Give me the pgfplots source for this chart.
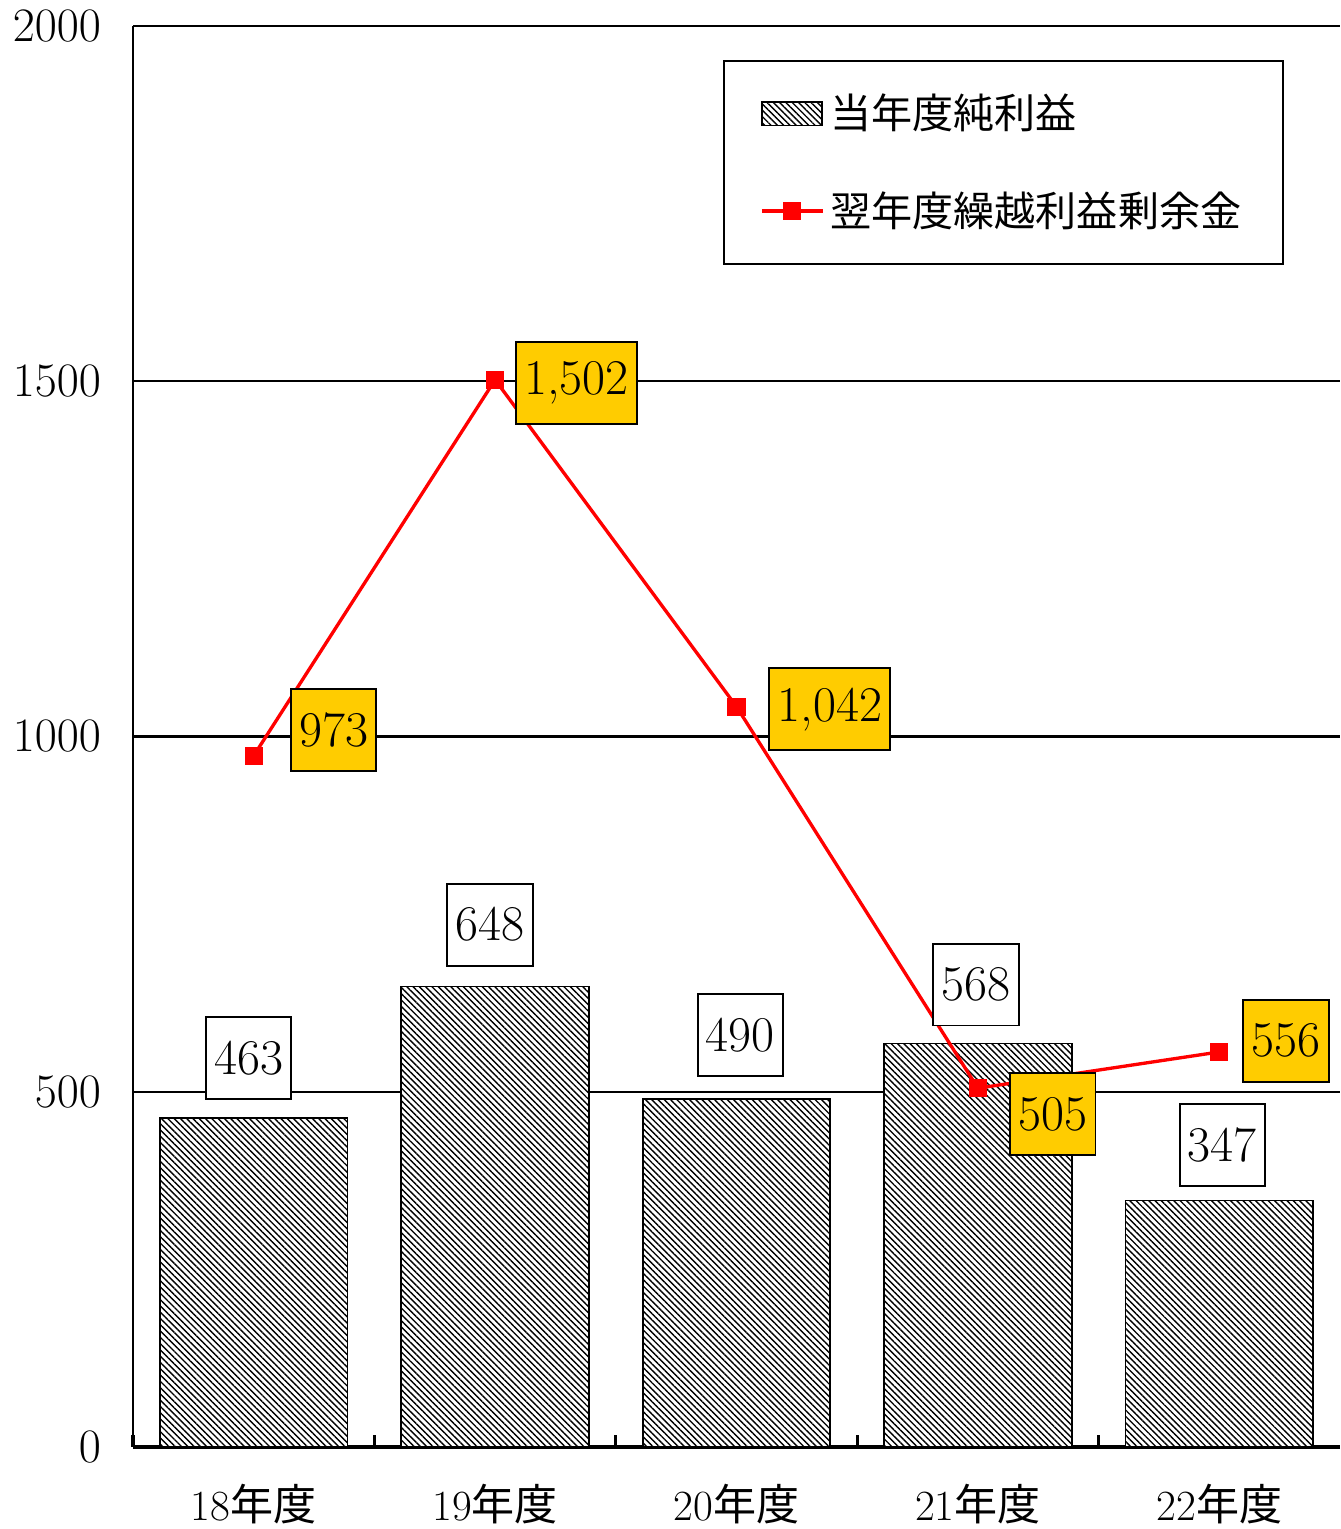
\documentclass[border=0pt]{standalone}
\usepackage{fontspec}
\usepackage{pgfplots}
\pgfplotsset{compat=1.18}
\usetikzlibrary{patterns.meta}
\newfontfamily\cjk{Noto Sans CJK JP}
\definecolor{gold}{HTML}{FFCC00}

\pgfplotsset{
  barleg/.style={legend image code/.code={\draw[##1] (0pt,-4.3pt) rectangle (21.6pt,4.3pt);}},
  lineleg/.style={legend image code/.code={\draw[mark repeat=2,mark phase=2,##1] plot coordinates {(0pt,0pt)(11pt,0pt)(22pt,0pt)};}},
}

\begin{document}
\begin{tikzpicture}
\path[use as bounding box] (0,0) rectangle (482.4pt,550.44pt);
\begin{axis}[
  at={(47.88pt,29.52pt)}, anchor=south west,
  scale only axis, width=434.52pt, height=511.56pt,
  xmin=-0.5, xmax=4.5, ymin=0, ymax=2000,
  axis x line*=bottom, axis y line*=left,
  x axis line style={line width=1.3pt, -},
  y axis line style={line width=0.7pt, -},
  ytick={0,500,1000,1500,2000},
  ymajorgrids, grid style={black, line width=0.75pt},
  xtick={0,1,2,3,4},
  xticklabels={18{\cjk 年度},19{\cjk 年度},20{\cjk 年度},21{\cjk 年度},22{\cjk 年度}},
  minor xtick={-0.5,0.5,1.5,2.5,3.5},
  major tick length=0pt, minor tick length=4.3pt, tick align=inside,
  every minor tick/.append style={line width=1.1pt, black},
  xticklabel style={font=\fontsize{15.5}{15.5}\selectfont, yshift=-10pt},
  yticklabel style={font=\fontsize{16}{16}\selectfont, xshift=-8pt},
  /pgf/number format/1000 sep={},
  clip=false,
  legend style={at={(0.9536,0.9761)}, anchor=north east, draw=black, line width=0.7pt,
    font=\cjk\fontsize{14.8}{14.8}\selectfont, inner xsep=13pt, inner ysep=10pt,
    row sep=17pt, cells={anchor=west}},
]
\addplot[ybar, bar width=0.777, draw=black, line width=0.6pt, fill=white,
  postaction={pattern={Lines[angle=-45,distance=1.6pt,line width=0.5pt]}}, barleg]
  coordinates {(0,463)(1,648)(2,490)(3,568)(4,347)};
\addlegendentry{当年度純利益}
\addplot[red, line width=1.2pt, mark=square*, mark size=3pt,
  mark options={solid, fill=red, line width=0.5pt}, lineleg]
  coordinates {(0,973)(1,1502)(2,1042)(3,505)(4,556)};
\addlegendentry{翌年度繰越利益剰余金}

\tikzset{
  barlbl/.style={draw=black, fill=white, line width=0.7pt, font=\fontsize{18}{18}\selectfont,
    inner xsep=3pt, inner ysep=0pt, minimum height=29.5pt, anchor=south},
  linelbl/.style={draw=black, fill=gold, line width=0.7pt, font=\fontsize{18}{18}\selectfont,
    inner xsep=3pt, inner ysep=0pt, minimum height=29.5pt, anchor=west},
}
\node[barlbl, xshift=-1.8pt, yshift=6.5pt] at (axis cs:0,463) {463};
\node[barlbl, xshift=-1.8pt, yshift=7.2pt] at (axis cs:1,648) {648};
\node[barlbl, xshift=1.4pt, yshift=7.9pt] at (axis cs:2,490) {490};
\node[barlbl, xshift=-0.7pt, yshift=6.1pt] at (axis cs:3,568) {568};
\node[barlbl, xshift=1.1pt, yshift=5pt] at (axis cs:4,347) {347};

\node[linelbl, xshift=13pt, yshift=9.4pt] at (axis cs:0,973) {973};
\node[linelbl, xshift=7.2pt, yshift=-1pt] at (axis cs:1,1502) {1,502};
\node[linelbl, xshift=11.5pt, yshift=-1pt] at (axis cs:2,1042) {1,042};
\node[linelbl, xshift=11.2pt, yshift=-9.4pt] at (axis cs:3,505) {505};
\node[linelbl, xshift=8.3pt, yshift=4pt] at (axis cs:4,556) {556};
\end{axis}
\end{tikzpicture}
\end{document}
